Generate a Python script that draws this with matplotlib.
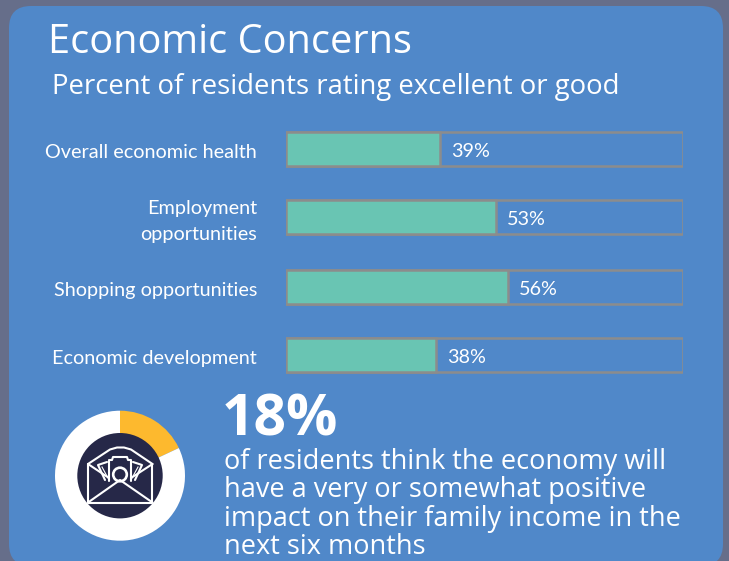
import numpy as np
import matplotlib
matplotlib.use('Agg')
import matplotlib.pyplot as plt
from matplotlib.patches import FancyBboxPatch, Circle
from matplotlib.transforms import Affine2D

W, H = 729, 561
BG = '#666e8a'
PANEL = '#5088c9'
GREEN = '#69c5b3'
GREY = '#8c8c8c'
YELLOW = '#fdb92e'
NAVY = '#262848'

categories = ['Overall economic health', 'Employment\nopportunities',
              'Shopping opportunities', 'Economic development']
percents = [39, 53, 56, 38]
positive_share = 18

plt.rcParams['font.family'] = ['Lato', 'DejaVu Sans']

fig = plt.figure(figsize=(W/100, H/100), dpi=100, facecolor=BG)

# full-figure canvas in pixels, y pointing down
bg = fig.add_axes([0, 0, 1, 1])
bg.set_xlim(0, W)
bg.set_ylim(H, 0)
bg.axis('off')
bg.add_patch(FancyBboxPatch((9+22, 6+22), 714-44, 560-44,
                            boxstyle='round,pad=22,rounding_size=22',
                            fc=PANEL, ec='none', clip_on=False))
bg.text(48.5, 43, 'Economic Concerns', color='white', fontsize=28.6,
        family='Open Sans', va='center', ha='left')
bg.text(52, 87, 'Percent of residents rating excellent or good', color='white',
        fontsize=19.82, family='Open Sans', va='center', ha='left')

# bars
ax = fig.add_axes([285.5/W, 1-374/H, 397/W, 243/H])
ax.set_xlim(0, 100)
ax.set_ylim(374, 131)
ax.patch.set_alpha(0)
bar_y = [149.5, 217.5, 287.5, 355.5]
ax.barh(bar_y, [100]*4, height=34, fc='none', ec=GREY, lw=1.8)
ax.barh(bar_y, percents, height=34, color=GREEN, ec=GREY, lw=1.8)
for y, p in zip(bar_y, percents):
    ax.text(p+2.8, y+2, '%d%%' % p, color='white', fontsize=14.2, va='center', ha='left')
ax.set_xticks([])
ax.set_yticks(bar_y, categories)
ax.tick_params(axis='y', length=0, pad=20.6, labelsize=14.3, labelcolor='white')
# the two-line label sits a little higher than the others
for t, shift in zip(ax.get_yticklabels(), [-2, 1.5, -2, -2]):
    t.set_linespacing(1.6)
    t.set_transform(t.get_transform() + Affine2D().translate(0, shift))
for s in ax.spines.values():
    s.set_visible(False)

# donut
cx, cy = 120, 475.7
donut = fig.add_axes([(cx-65)/W, 1-(cy+65)/H, 130/W, 130/H])
donut.pie([positive_share, 100-positive_share], colors=[YELLOW, 'white'], startangle=90,
          counterclock=False, radius=1, wedgeprops={'width': 0.4, 'linewidth': 0})
donut.set_xlim(-1, 1)
donut.set_ylim(-1, 1)

# envelope icon on top of the donut
icon = fig.add_axes([0, 0, 1, 1])
icon.set_xlim(0, W)
icon.set_ylim(H, 0)
icon.axis('off')
icon.patch.set_alpha(0)
icon.add_patch(Circle((cx, cy), 42.7, fc=NAVY, ec='none'))
line = dict(color='white', lw=1.5, solid_capstyle='round', solid_joinstyle='round')
# fanned notes
icon.plot([107, 98, 105], [462, 465, 480], **line)
icon.plot([133, 142, 135], [462, 465, 480], **line)
icon.plot([102, 108], [467, 478], color='white', lw=0.8)
icon.plot([138, 132], [467, 478], color='white', lw=0.8)
# front note with notched corners
icon.plot([109, 109, 112, 113, 127, 128, 131, 131],
          [481, 460, 460, 457, 457, 460, 460, 481], **line)
icon.add_patch(Circle((120, 474.5), 6.8, fc=NAVY, ec='white', lw=1.9))
# envelope body and flap
icon.plot([88, 88, 152.5, 152.5], [464, 502.5, 502.5, 464], **line)
icon.plot([88, 110, 117, 124, 131, 152.5], [464, 449.5, 447.5, 447.5, 449.5, 464], **line)
icon.plot([88, 120, 152.5], [502.5, 480, 502.5], **line)
icon.plot([88, 109], [464, 478], **line)
icon.plot([152.5, 131], [464, 478], **line)

# callout
bg.text(221.5, 420, '18%', color='white', fontsize=41, weight='bold', family='Open Sans',
        va='center', ha='left')
callout = ['of residents think the economy will', 'have a very or somewhat positive',
           'impact on their family income in the', 'next six months']
for y, s in zip([462, 490, 519, 547], callout):
    bg.text(224, y, s, color='white', fontsize=19.55, family='Open Sans', va='center', ha='left')

fig.savefig('out.png', dpi=100, facecolor=BG)
